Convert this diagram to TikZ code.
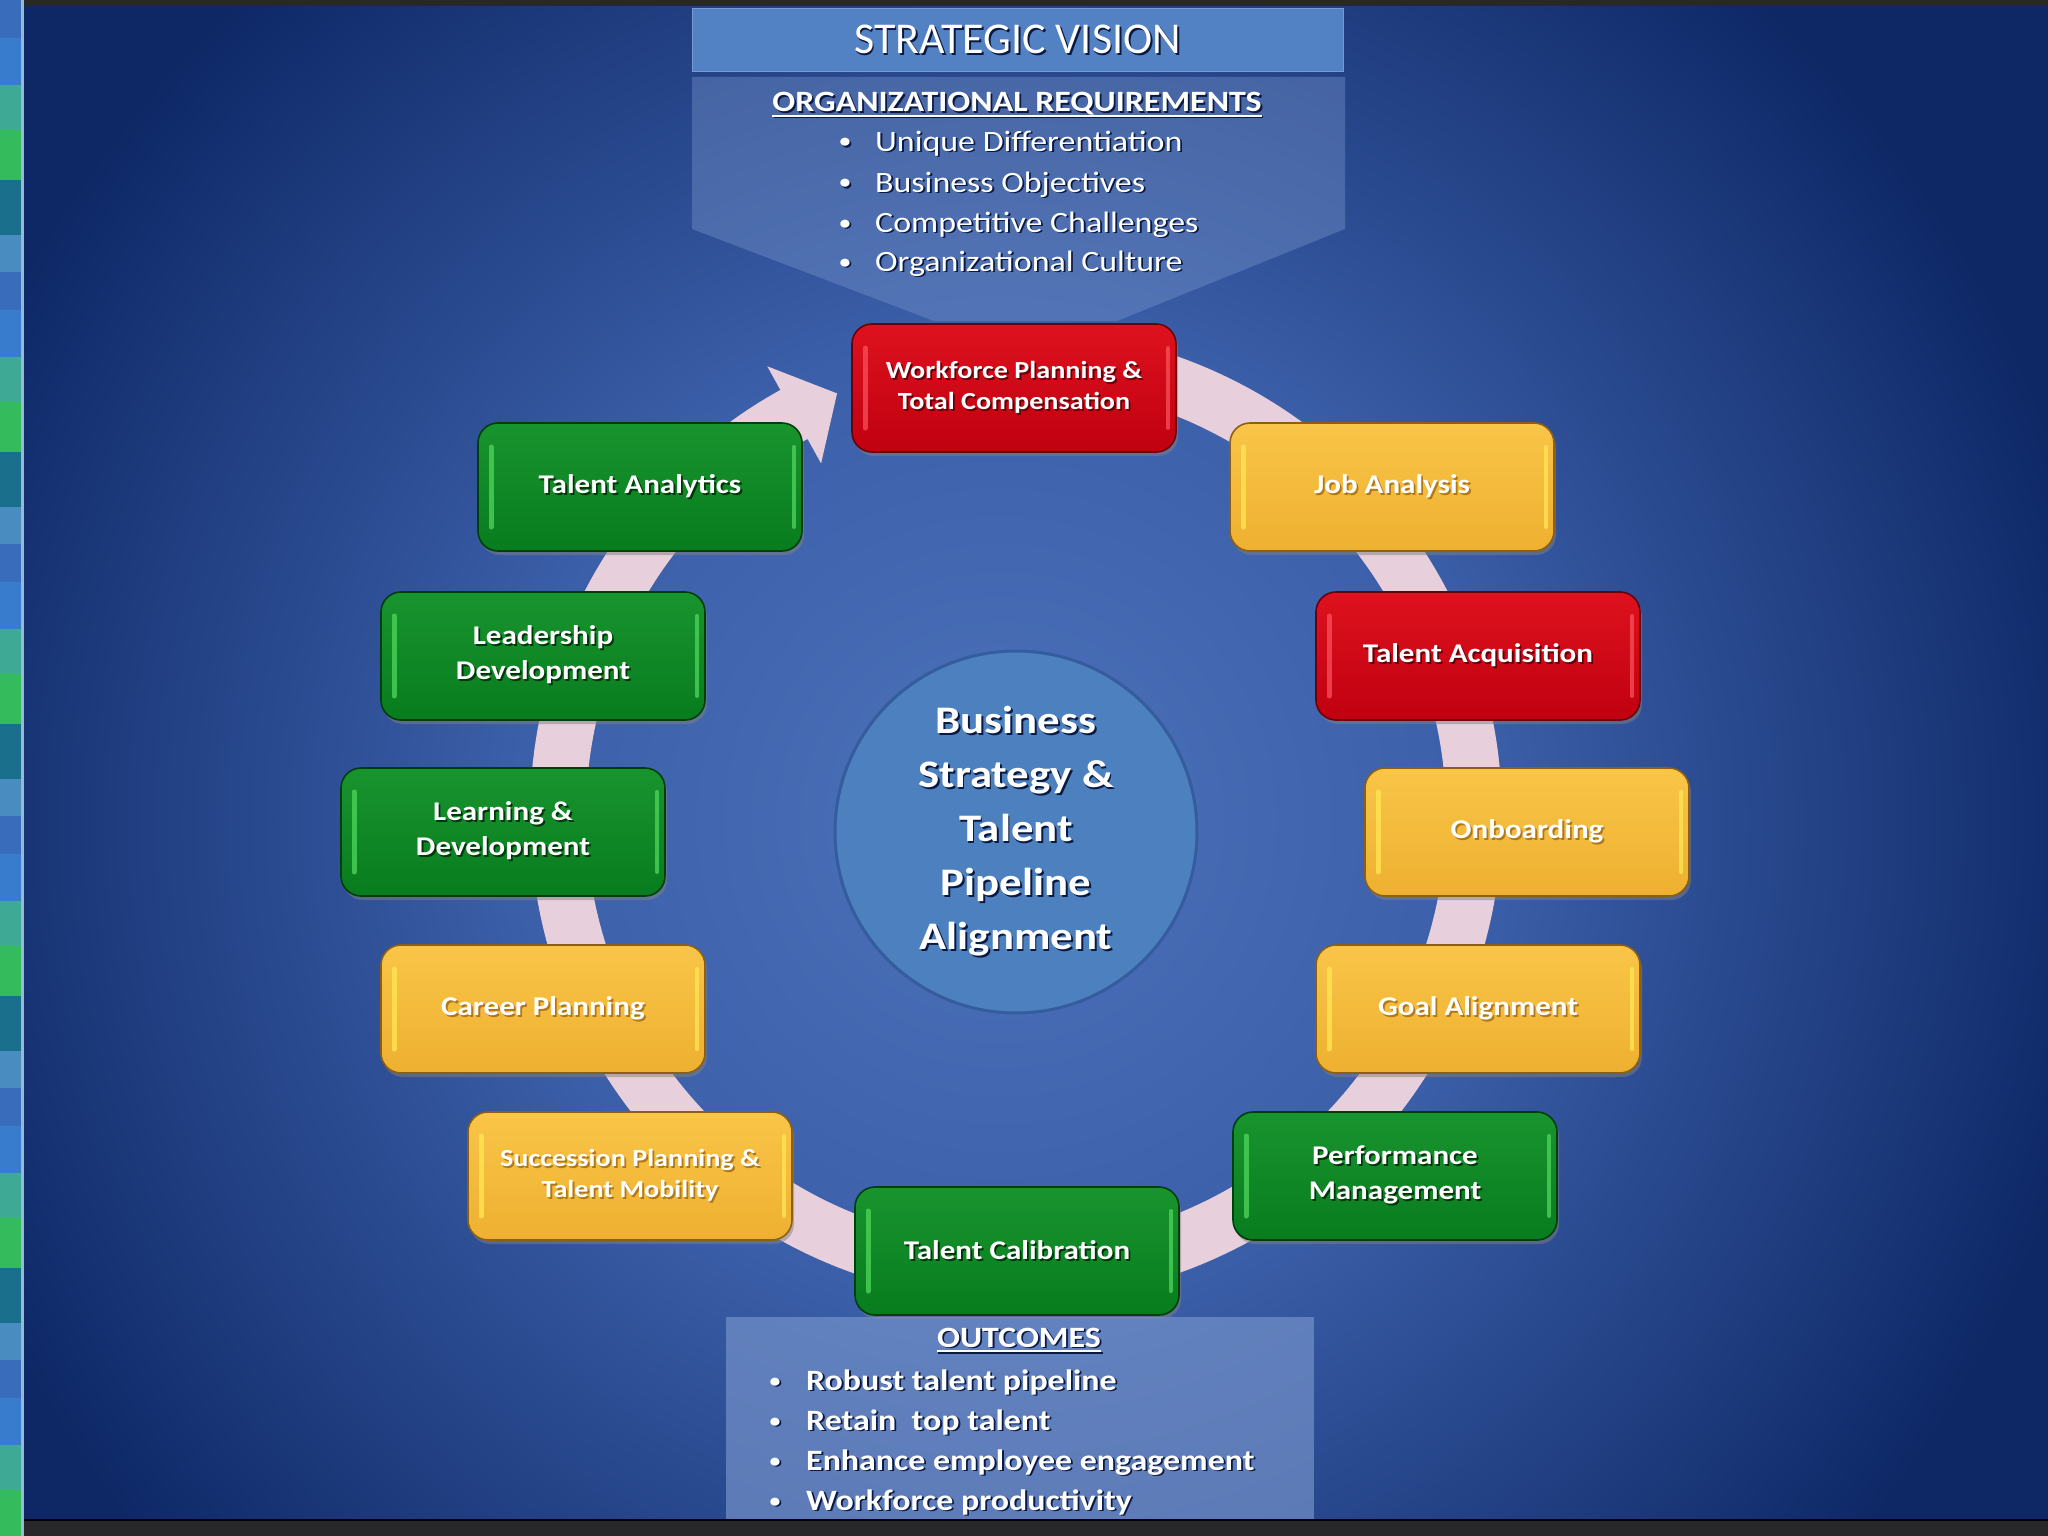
\documentclass[tikz,border=0pt]{standalone}
\usepackage{fontspec}
\setmainfont{Carlito}[FakeStretch=1.15]
\newfontfamily\plainfont{Carlito}
\usetikzlibrary{shadows,calc}

\definecolor{bgbase}{RGB}{14,40,102}
\definecolor{rtop}{RGB}{222,18,30}
\definecolor{rbot}{RGB}{192,0,16}
\definecolor{rdark}{RGB}{105,0,10}
\definecolor{rhl}{RGB}{250,80,92}
\definecolor{ytop}{RGB}{249,197,72}
\definecolor{ybot}{RGB}{238,176,48}
\definecolor{ydark}{RGB}{140,95,20}
\definecolor{yhl}{RGB}{255,232,85}
\definecolor{gtop}{RGB}{24,148,46}
\definecolor{gbot}{RGB}{8,124,30}
\definecolor{gdark}{RGB}{0,62,14}
\definecolor{ghl}{RGB}{80,215,92}
\definecolor{shR}{RGB}{100,0,8}
\definecolor{shY}{RGB}{175,120,25}
\definecolor{shG}{RGB}{0,55,10}
\definecolor{shB}{RGB}{10,25,65}
\definecolor{circc}{RGB}{76,128,190}
\definecolor{circd}{RGB}{52,92,158}
\definecolor{arrowc}{RGB}{246,216,224}
\definecolor{panelc}{RGB}{120,150,205}
\definecolor{svc}{RGB}{82,130,195}
\definecolor{sa}{RGB}{58,108,188}
\definecolor{sb}{RGB}{56,125,205}
\definecolor{sc}{RGB}{62,170,150}
\definecolor{sd}{RGB}{52,188,92}
\definecolor{se}{RGB}{26,112,140}
\definecolor{sf}{RGB}{72,140,192}
\definecolor{sline}{RGB}{150,185,215}
\definecolor{barc}{RGB}{40,40,42}
\colorlet{shadowc}{shB}

\pgfdeclareradialshading{bgglow}{\pgfpoint{0bp}{0bp}}{rgb(0bp)=(0.30,0.45,0.73); rgb(11bp)=(0.23,0.37,0.66); rgb(25bp)=(0.055,0.157,0.40); rgb(50bp)=(0.055,0.157,0.40)}

\newcommand\shad[1]{\leavevmode\rlap{\kern1.8pt\raisebox{-1.8pt}{\textcolor{shadowc}{#1}}}#1}
\newcommand\boxhl[1]{%
  \draw[#1, line width=5pt, line cap=round, opacity=0.75] ([xshift=13pt,yshift=-24pt]path picture bounding box.north west) -- ([xshift=13pt,yshift=24pt]path picture bounding box.south west);
  \draw[#1, line width=4pt, line cap=round, opacity=0.75] ([xshift=-8pt,yshift=-24pt]path picture bounding box.north east) -- ([xshift=-8pt,yshift=24pt]path picture bounding box.south east);}

\tikzset{
  tbox/.style={rounded corners=20pt, minimum width=324pt, minimum height=128pt, inner sep=0pt,
    align=center, text=white, font=\fontsize{27}{35}\selectfont\bfseries, line width=1.6pt,
    drop shadow={shadow xshift=2pt, shadow yshift=-4pt, opacity=0.5}},
  redbox/.style={tbox, top color=rtop, bottom color=rbot, draw=rdark, path picture={\boxhl{rhl}},
    execute at begin node={\colorlet{shadowc}{shR}}},
  yelbox/.style={tbox, top color=ytop, bottom color=ybot, draw=ydark, path picture={\boxhl{yhl}},
    execute at begin node={\colorlet{shadowc}{shY}}},
  grnbox/.style={tbox, top color=gtop, bottom color=gbot, draw=gdark, path picture={\boxhl{ghl}},
    execute at begin node={\colorlet{shadowc}{shG}}},
  smalltxt/.style={font=\fontsize{24.5}{31}\selectfont\bfseries},
  itemtxt/.style={text=white, inner sep=0pt, anchor=base west, font=\fontsize{29.5}{36}\selectfont},
  itembold/.style={itemtxt, font=\fontsize{29.5}{36}\selectfont\bfseries},
  bullet/.style={text=white, inner sep=0pt, anchor=base, font=\fontsize{19}{24}\selectfont\bfseries},
  headtxt/.style={text=white, inner sep=0pt, anchor=base, font=\fontsize{29.5}{36}\selectfont\bfseries},
  uline/.style={white, line width=2pt},
  ushadow/.style={shB, line width=2pt}
}

\begin{document}
\begin{tikzpicture}[x=1pt,y=1pt]
\useasboundingbox (0,0) rectangle (2048,-1536);

% background
\begin{scope}
  \clip (22,0) rectangle (2048,-1536);
  \fill[bgbase] (22,0) rectangle (2048,-1536);
  \shade[shading=bgglow] (1000,-820) circle[radius=1120];
\end{scope}

% left strip
\begin{scope}
  \clip (0,0) rectangle (24,-1536);
  \foreach \k in {0,...,5}{
    \fill[sa] (0,{-\k*272}) rectangle (22,{-\k*272-38});
    \fill[sb] (0,{-\k*272-38}) rectangle (22,{-\k*272-85});
    \fill[sc] (0,{-\k*272-85}) rectangle (22,{-\k*272-130});
    \fill[sd] (0,{-\k*272-130}) rectangle (22,{-\k*272-180});
    \fill[se] (0,{-\k*272-180}) rectangle (22,{-\k*272-235});
    \fill[sf] (0,{-\k*272-235}) rectangle (22,{-\k*272-272});
  }
  \fill[sline] (21,0) rectangle (24,-1536);
\end{scope}

% top bar
\fill[barc] (24,0) rectangle (2048,-6);

% funnel (organizational requirements)
\fill[panelc, fill opacity=0.4] (692,-77) -- (1345,-77) -- (1345,-229) -- (1117,-321) -- (934,-321) -- (692,-229) -- cycle;

% strategic vision box
\node[fill=svc, draw=svc!80!white, line width=1pt, minimum width=651pt, minimum height=63pt, inner sep=0pt,
      text=white, font=\plainfont\fontsize{44}{50}\selectfont] (sv) at (1017.5,-40.5) {\shad{STRATEGIC VISION}};

% requirements text
\node[headtxt] (orgh) at (1017,-112) {\shad{ORGANIZATIONAL REQUIREMENTS}};
\draw[ushadow] ([xshift=1.5pt,yshift=-5.5pt]orgh.base west) -- ([xshift=1.5pt,yshift=-5.5pt]orgh.base east);
\draw[uline] ([yshift=-4pt]orgh.base west) -- ([yshift=-4pt]orgh.base east);
\node[bullet] (rb1) at (845,-148) {\shad{•}};
\node[bullet] (rb2) at (845,-189) {\shad{•}};
\node[bullet] (rb3) at (845,-229) {\shad{•}};
\node[bullet] (rb4) at (845,-268) {\shad{•}};
\node[itemtxt] (r1) at (875,-151) {\shad{Unique Differentiation}};
\node[itemtxt] (r2) at (875,-192) {\shad{Business Objectives}};
\node[itemtxt] (r3) at (875,-232) {\shad{Competitive Challenges}};
\node[itemtxt] (r4) at (875,-271) {\shad{Organizational Culture}};

% cycle arrow
\begin{scope}[shift={(1016,-815)}]
  \fill[arrowc, fill opacity=0.93] (92:486) arc[start angle=92, end angle=-241, radius=486]
     -- (119:513) -- (113:458) -- (119:402) -- (119:430)
     arc[start angle=119, end angle=452, radius=430] -- cycle;
\end{scope}

% centre circle
\node[circle, minimum size=362pt, inner sep=0pt, fill=circc, draw=circd, line width=3pt,
      align=center, text=white, font=\fontsize{39}{54}\selectfont\bfseries] (core) at (1016,-832)
  {\shad{Business}\\\shad{Strategy \&}\\\shad{Talent}\\\shad{Pipeline}\\\shad{Alignment}};

% process boxes
\node[redbox, smalltxt] (wp) at (1014,-388) {\shad{Workforce Planning \&}\\\shad{Total Compensation}};
\node[yelbox] (ja) at (1392,-487) {\shad{Job Analysis}};
\node[redbox] (ta) at (1478,-656) {\shad{Talent Acquisition}};
\node[yelbox] (ob) at (1527,-832) {\shad{Onboarding}};
\node[yelbox] (ga) at (1478,-1009) {\shad{Goal Alignment}};
\node[grnbox] (pm) at (1395,-1176) {\shad{Performance}\\\shad{Management}};
\node[grnbox] (tc) at (1017,-1251) {\shad{Talent Calibration}};
\node[yelbox, smalltxt] (sp) at (630,-1176) {\shad{Succession Planning \&}\\\shad{Talent Mobility}};
\node[yelbox] (cp) at (543,-1009) {\shad{Career Planning}};
\node[grnbox] (ld) at (503,-832) {\shad{Learning \&}\\\shad{Development}};
\node[grnbox] (lead) at (543,-656) {\shad{Leadership}\\\shad{Development}};
\node[grnbox] (tan) at (640,-487) {\shad{Talent Analytics}};

% outcomes panel
\fill[panelc, fill opacity=0.65] (726,-1317) rectangle (1314,-1521);
\node[headtxt] (outh) at (1019,-1347) {\shad{OUTCOMES}};
\draw[ushadow] ([xshift=1.5pt,yshift=-5.5pt]outh.base west) -- ([xshift=1.5pt,yshift=-5.5pt]outh.base east);
\draw[uline] ([yshift=-4pt]outh.base west) -- ([yshift=-4pt]outh.base east);
\node[bullet] (ob1) at (775,-1387) {\shad{•}};
\node[bullet] (ob2) at (775,-1427) {\shad{•}};
\node[bullet] (ob3) at (775,-1467) {\shad{•}};
\node[bullet] (ob4) at (775,-1507) {\shad{•}};
\node[itembold] (o1) at (806,-1390) {\shad{Robust talent pipeline}};
\node[itembold] (o2) at (806,-1430) {\shad{Retain\ \ top talent}};
\node[itembold] (o3) at (806,-1470) {\shad{Enhance employee engagement}};
\node[itembold] (o4) at (806,-1510) {\shad{Workforce productivity}};

% bottom bar
\fill[barc] (24,-1519) rectangle (2048,-1536);
\fill[black] (24,-1519) rectangle (2048,-1521);
\end{tikzpicture}
\end{document}
